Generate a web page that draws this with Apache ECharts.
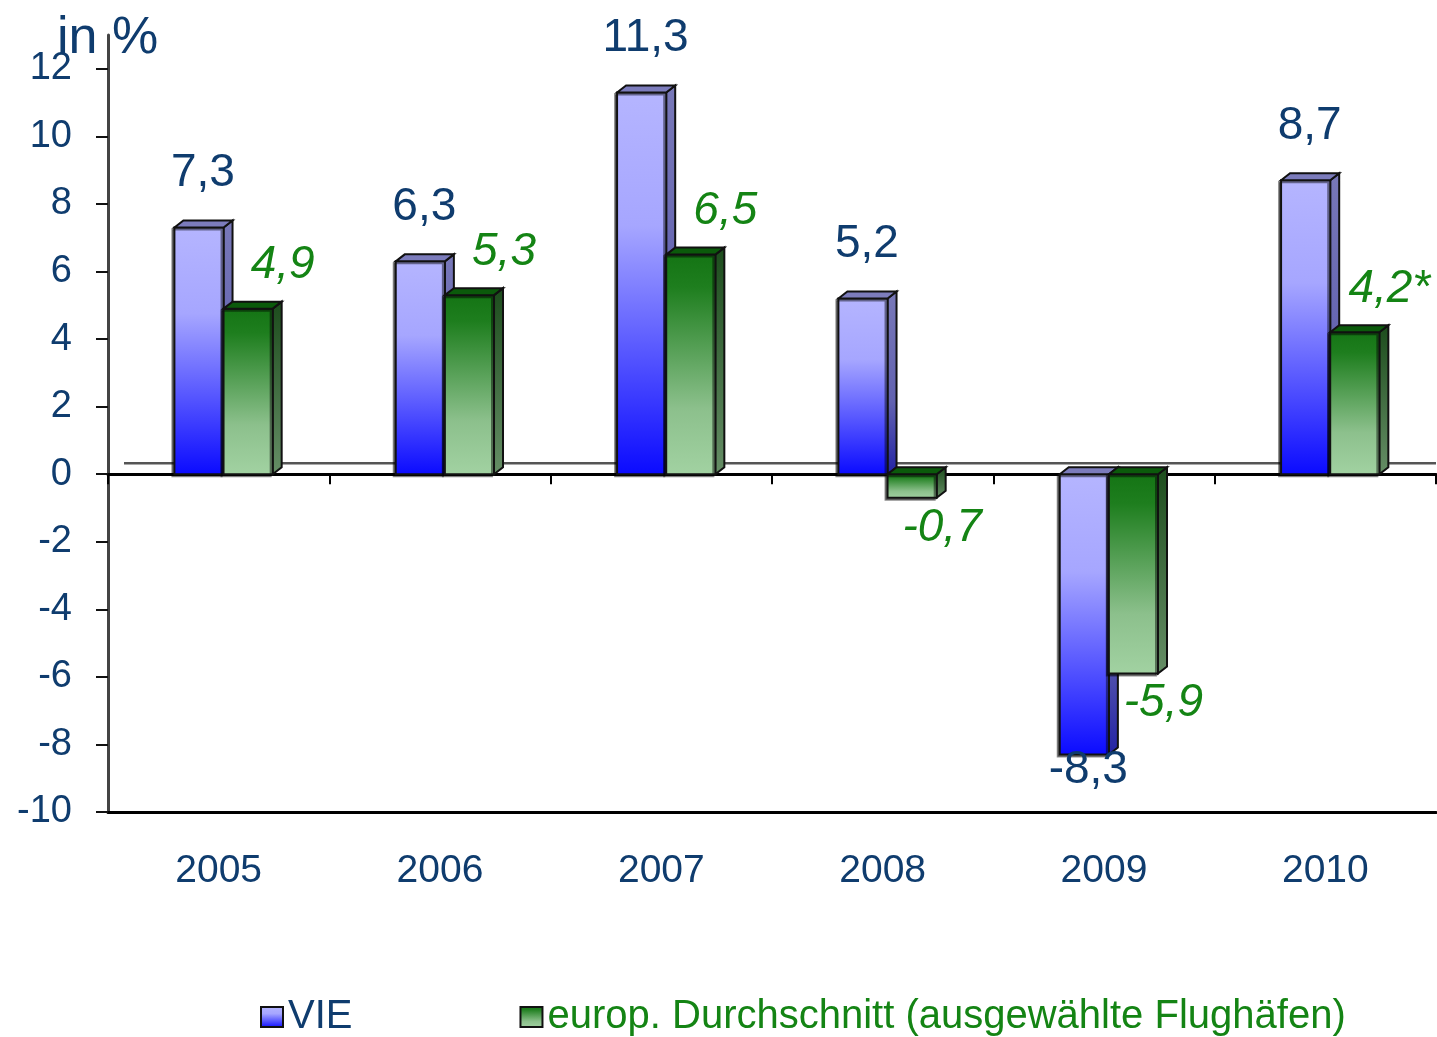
<!DOCTYPE html>
<html>
<head>
<meta charset="utf-8">
<script src="https://cdn.jsdelivr.net/npm/echarts@6/dist/echarts.min.js"></script>
<style>
  html, body { margin: 0; padding: 0; background: #fff; }
  #chart { width: 1437px; height: 1037px; }
</style>
</head>
<body>
<div id="chart"></div>
<script>
const categories = ['2005', '2006', '2007', '2008', '2009', '2010'];
const vieValues = [7.3, 6.3, 11.3, 5.2, -8.3, 8.7];
const europValues = [4.9, 5.3, 6.5, -0.7, -5.9, 4.2];
const europNotes = ['', '', '', '', '', '*'];
const yTicks = [-10, -8, -6, -4, -2, 0, 2, 4, 6, 8, 10, 12];

const navy = '#0f3c6e';
const green = '#148414';
const font = '"Liberation Sans", Arial, sans-serif';
const DX = 9, DY = -7;

function grad(stops) {
    return {
        type: 'linear', x: 0, y: 0, x2: 0, y2: 1,
        colorStops: stops.map(function (s) { return { offset: s[0], color: s[1] }; })
    };
}

const looks = {
    vie: {
        front: [[0, '#b5b5ff'], [0.35, '#a6a6ff'], [1, '#0a0aff']],
        side: [[0, '#7878b8'], [0.6, '#6262b0'], [1, '#2222a4']],
        top: '#7c7cbc',
        shift: -0.2,
        textColor: navy,
        italic: 'normal'
    },
    europ: {
        front: [[0, '#147414'], [0.15, '#1e7e1e'], [0.7, '#8cc08c'], [1, '#a2d2a2']],
        side: [[0, '#1c4c1c'], [1, '#668e66']],
        top: '#0b5a0b',
        shift: 0.022,
        textColor: green,
        italic: 'italic'
    }
};

function fmt(v) {
    return String(v).replace('.', ',');
}

function barRenderer(kind, notes) {
    const look = looks[kind];
    return function (params, api) {
        const idx = api.value(0);
        const val = api.value(1);
        const p0 = api.coord([idx, 0]);
        const p1 = api.coord([idx, val]);
        const band = api.size([1, 0])[0];
        const w = band * 0.222;
        const x0 = p0[0] + band * look.shift;
        const top = Math.min(p0[1], p1[1]);
        const bottom = Math.max(p0[1], p1[1]);
        const x1 = x0 + w;
        const line = { stroke: '#111', lineWidth: 2 };

        const children = [
            {
                type: 'polygon',
                shape: { points: [[x1, top], [x1 + DX, top + DY], [x1 + DX, bottom + DY], [x1, bottom]] },
                style: Object.assign({ fill: grad(look.side) }, line)
            },
            {
                type: 'rect',
                shape: { x: x0, y: top, width: w, height: bottom - top },
                style: Object.assign({
                    fill: grad(look.front),
                    shadowColor: 'rgba(0,0,0,0.45)', shadowOffsetX: -2, shadowOffsetY: 2, shadowBlur: 0
                }, line)
            },
            {
                type: 'polygon',
                shape: { points: [[x0, top], [x0 + DX, top + DY], [x1 + DX, top + DY], [x1, top]] },
                style: Object.assign({ fill: look.top }, line)
            }
        ];

        let tx, ty;
        if (kind === 'vie') {
            tx = x0 + w / 2 + 4;
            ty = val >= 0 ? top - 54 : bottom + 16;
        } else {
            tx = val >= 0 ? x1 + 10 : x0 + w / 2 + 30;
            ty = val >= 0 ? top - 43 : bottom + 30;
        }
        children.push({
            type: 'text',
            style: {
                text: fmt(val) + (notes ? notes[idx] : ''),
                x: tx, y: ty,
                align: 'center', verticalAlign: 'middle',
                fill: look.textColor,
                fontSize: 46,
                fontStyle: look.italic,
                fontFamily: font
            }
        });
        return { type: 'group', children: children };
    };
}

function floorLine(params, api) {
    const cs = params.coordSys;
    const y = api.coord([0, 0])[1] - 11;
    return {
        type: 'line',
        shape: { x1: cs.x + 16, y1: y, x2: cs.x + cs.width, y2: y },
        style: { stroke: '#555', lineWidth: 2.5 }
    };
}

const chart = echarts.init(document.getElementById('chart'));

const option = {
    animation: false,
    title: {
        text: 'in %',
        left: 57,
        top: 13,
        padding: 0,
        textStyle: { fontSize: 52, fontWeight: 'normal', color: navy, fontFamily: font }
    },
    legend: {
        left: 260,
        top: 997,
        padding: 0,
        icon: 'rect',
        itemWidth: 22,
        itemHeight: 20,
        itemGap: 167,
        itemStyle: { borderColor: '#111', borderWidth: 2 },
        textStyle: { fontSize: 40, fontFamily: font },
        data: [
            { name: 'VIE', textStyle: { color: navy } },
            { name: 'europ. Durchschnitt (ausgewählte Flughäfen)', textStyle: { color: green } }
        ]
    },
    grid: {
        left: 108,
        right: 1,
        top: 35,
        bottom: 225,
        containLabel: false
    },
    xAxis: [
        {
            type: 'category',
            data: categories,
            position: 'bottom',
            axisLine: { onZero: false, lineStyle: { color: '#000', width: 3 } },
            axisTick: { show: false },
            axisLabel: { fontSize: 39, color: navy, fontFamily: font, margin: 40 }
        },
        {
            type: 'category',
            data: categories,
            position: 'bottom',
            axisLine: { onZero: true, lineStyle: { color: '#000', width: 3 } },
            axisTick: { show: true, length: 10, lineStyle: { color: '#000', width: 2 } },
            axisLabel: { show: false }
        }
    ],
    yAxis: {
        type: 'value',
        min: -10,
        max: 13,
        splitLine: { show: false },
        axisLine: { show: true, lineStyle: { color: '#444', width: 3 } },
        axisTick: { show: true, length: 12, customValues: yTicks, lineStyle: { color: '#111', width: 2 } },
        axisLabel: { customValues: yTicks, fontSize: 38, color: navy, fontFamily: font, margin: 36 }
    },
    series: [
        {
            name: 'floor',
            type: 'custom',
            z: 1,
            silent: true,
            renderItem: floorLine,
            data: [[0, 0]]
        },
        {
            name: 'VIE',
            type: 'custom',
            z: 2,
            itemStyle: { color: grad(looks.vie.front) },
            renderItem: barRenderer('vie'),
            encode: { x: 0, y: 1 },
            data: vieValues.map(function (v, i) { return [i, v]; })
        },
        {
            name: 'europ. Durchschnitt (ausgewählte Flughäfen)',
            type: 'custom',
            z: 3,
            itemStyle: { color: grad(looks.europ.front) },
            renderItem: barRenderer('europ', europNotes),
            encode: { x: 0, y: 1 },
            data: europValues.map(function (v, i) { return [i, v]; })
        }
    ]
};

chart.setOption(option);
</script>
</body>
</html>
